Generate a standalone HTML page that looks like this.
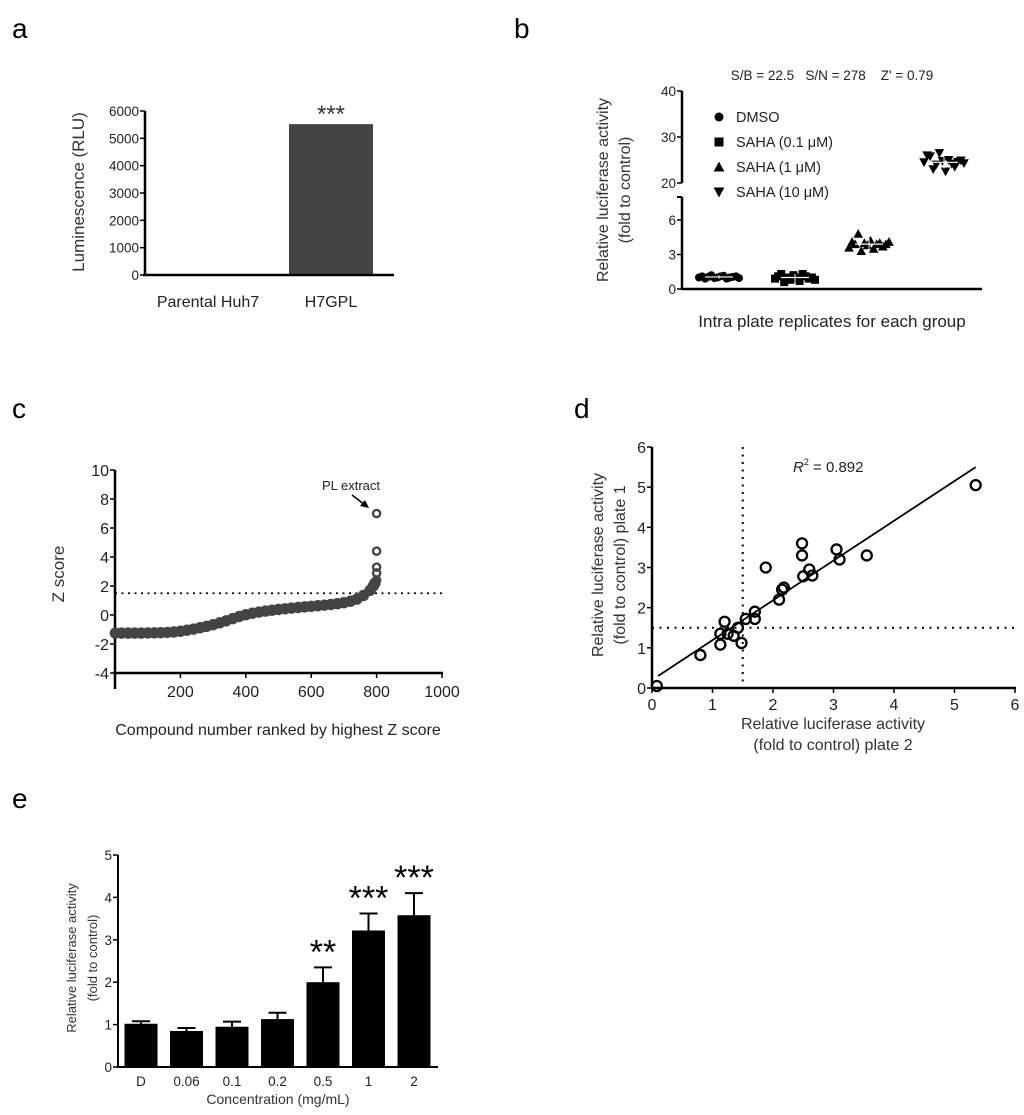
<!DOCTYPE html>
<html><head><meta charset="utf-8"><style>
html,body{margin:0;padding:0;background:#fff}
svg{display:block;font-family:"Liberation Sans",sans-serif}
</style></head><body>
<svg id="fig" width="1024" height="1115" viewBox="0 0 1024 1115">
<g id="pa"></g>
<g id="pb"></g>
<g id="pc"></g>
<g id="pd"></g>
<g id="pe"></g>
</svg>
<script>
// ---- data ----
const aCategories = ["Parental Huh7", "H7GPL"];
const aValues = [0, 5520];
const aTicks = [0,1000,2000,3000,4000,5000,6000];

const bGroups = ["DMSO","SAHA (0.1 μM)","SAHA (1 μM)","SAHA (10 μM)"];
const bMeans = [1.05, 1.0, 3.9, 24.5];
const bSD = [0.15, 0.3, 0.45, 1.3];
const bDmso = [1.0,1.1,0.9,1.05,1.2,0.95,1.0,1.1,1.15,0.9,1.0,1.05,1.1,0.95];
const bSaha01 = [0.9,1.1,1.3,0.6,1.0,0.8,1.2,1.0,0.7,1.3,1.1,0.9,1.0,0.8];
const bSaha1 = [3.6,4.1,3.9,4.8,3.3,4.0,3.8,4.2,3.5,3.9,4.0,3.7,3.9,4.1];
const bSaha10 = [24.5,26.0,25.8,23.0,24.0,26.5,24.8,22.5,25.0,24.2,23.5,24.6,24.9,24.3];
const bLowTicks = [0,3,6];
const bHighTicks = [20,30,40];

const cRanks = [1,20,40,60,80,100,120,140,160,180,200,220,240,260,280,300,320,340,360,380,400,420,440,460,480,500,520,540,560,580,600,620,640,660,680,700,720,740,760,780,790,795,800,800,800,800,800];
const cZ = [-1.25,-1.25,-1.25,-1.25,-1.25,-1.24,-1.23,-1.22,-1.2,-1.17,-1.12,-1.05,-0.97,-0.88,-0.78,-0.67,-0.54,-0.4,-0.25,-0.1,0.02,0.12,0.2,0.27,0.33,0.38,0.43,0.48,0.52,0.56,0.6,0.64,0.68,0.73,0.78,0.85,0.95,1.1,1.35,1.7,2.0,2.2,2.4,2.9,3.3,4.4,7.0];
const cYTicks = [-4,-2,0,2,4,6,8,10];
const cXTicks = [200,400,600,800,1000];
const cThreshold = 1.5;

const dX = [0.08,0.8,1.13,1.13,1.2,1.25,1.35,1.42,1.48,1.55,1.7,1.7,1.88,2.1,2.15,2.18,2.48,2.48,2.5,2.6,2.65,3.05,3.1,3.55,5.35];
const dY = [0.05,0.82,1.08,1.35,1.65,1.35,1.3,1.5,1.12,1.72,1.72,1.9,3.0,2.2,2.45,2.5,3.6,3.3,2.78,2.95,2.8,3.45,3.2,3.3,5.05];
const dFit = [0.1,0.3,5.35,5.5];
const dTicks = [0,1,2,3,4,5,6];

const eCategories = ["D","0.06","0.1","0.2","0.5","1","2"];
const eValues = [1.02,0.85,0.95,1.13,2.0,3.22,3.58];
const eErrors = [0.06,0.07,0.12,0.15,0.35,0.4,0.52];
const eStars = ["","","","","**","***","***"];
const eTicks = [0,1,2,3,4,5];

// ---- helpers ----
const NS="http://www.w3.org/2000/svg";
function mk(parent,tag,attrs,txt){const e=document.createElementNS(NS,tag);for(const k in attrs)e.setAttribute(k,attrs[k]);if(txt!==undefined)e.textContent=txt;parent.appendChild(e);return e;}
function lin(d0,d1,r0,r1){return v=>r0+(v-d0)*(r1-r0)/(d1-d0);}

// ---- panel a ----
(function(){
const g=document.getElementById('pa');
let t=mk(g,'text',{x:12,y:38,'font-size':28});
t.textContent='a';
const y=lin(0,6000,275,111);
const xs=[208,331];
aCategories.forEach((c,i)=>{
  if(aValues[i]>0){const r=mk(g,'rect',{x:xs[i]-42,y:y(aValues[i]),width:84,height:275-y(aValues[i]),fill:'#444'});
  }
  const l=mk(g,'text',{x:xs[i],y:307,'font-size':16,'text-anchor':'middle',fill:'#222'},c);
  
});
mk(g,'line',{x1:145,y1:111,x2:145,y2:276,stroke:'#000','stroke-width':2.5});
mk(g,'line',{x1:143,y1:275,x2:394,y2:275,stroke:'#000','stroke-width':2.5});
aTicks.forEach(v=>{mk(g,'line',{x1:140,y1:y(v),x2:145,y2:y(v),stroke:'#000','stroke-width':1.5});
  const tl=mk(g,'text',{x:139,y:y(v)+5,'font-size':13.5,'text-anchor':'end',fill:'#222'},v);
  });
const st=mk(g,'text',{x:331,y:122,'font-size':24,'text-anchor':'middle',fill:'#333'},'***');

const yt=mk(g,'text',{x:0,y:0,'font-size':17,'text-anchor':'middle',fill:'#333',transform:'translate(84,192) rotate(-90)'},'Luminescence (RLU)');

})();

// ---- panel b ----
(function(){
const g=document.getElementById('pb');
let t=mk(g,'text',{x:514,y:38,'font-size':28},'b');

const yl=lin(0,6,289,220), yh=lin(20,40,183,91);
const yv=v=>v>=20?yh(v):yl(v);
const xs=[719,795,869,944];
const ax=682;
mk(g,'line',{x1:ax,y1:91,x2:ax,y2:183,stroke:'#000','stroke-width':2.5});
mk(g,'line',{x1:ax,y1:197,x2:ax,y2:290,stroke:'#000','stroke-width':2.5});
mk(g,'line',{x1:ax-5,y1:197,x2:ax,y2:197,stroke:'#000','stroke-width':2});
mk(g,'line',{x1:ax,y1:289,x2:982,y2:289,stroke:'#000','stroke-width':2.5});
bLowTicks.concat(bHighTicks).forEach(v=>{const yy=yv(v);mk(g,'line',{x1:ax-5,y1:yy,x2:ax,y2:yy,stroke:'#000','stroke-width':1.5});
  const tl=mk(g,'text',{x:ax-6,y:yy+5,'font-size':13.5,'text-anchor':'end',fill:'#222'},v);
  });
const sets=[bDmso,bSaha01,bSaha1,bSaha10];
function marker(p,type,cx,cy,s){
  if(type===0)return mk(p,'circle',{cx:cx,cy:cy,r:s,fill:'#000'});
  if(type===1)return mk(p,'rect',{x:cx-s,y:cy-s,width:2*s,height:2*s,fill:'#000'});
  if(type===2)return mk(p,'polygon',{points:`${cx},${cy-s*1.2} ${cx-s*1.2},${cy+s} ${cx+s*1.2},${cy+s}`,fill:'#000'});
  return mk(p,'polygon',{points:`${cx},${cy+s*1.2} ${cx-s*1.2},${cy-s} ${cx+s*1.2},${cy-s}`,fill:'#000'});
}
sets.forEach((arr,gi)=>{
  arr.forEach((v,i)=>{const m=marker(g,gi,xs[gi]-20+i*40/(arr.length-1),yv(v),4);
    });
  const m=bMeans[gi],s=bSD[gi];
  mk(g,'line',{x1:xs[gi]-14,y1:yv(m),x2:xs[gi]+14,y2:yv(m),stroke:'#fff','stroke-width':1.2});
  mk(g,'line',{x1:xs[gi],y1:yv(m-s),x2:xs[gi],y2:yv(m+s),stroke:'#fff','stroke-width':1});
});
const stats=mk(g,'text',{x:832,y:80,'font-size':13.5,'text-anchor':'middle',fill:'#222'},'S/B = 22.5\u00a0\u00a0\u00a0S/N = 278\u00a0\u00a0\u00a0\u00a0Z\' = 0.79');

bGroups.forEach((n,i)=>{const yy=117+i*25;marker(g,i,719,yy,4.5);
  const l=mk(g,'text',{x:736,y:yy+5,'font-size':14.5,fill:'#222'},n);
  });
const xt=mk(g,'text',{x:832,y:327,'font-size':17,'text-anchor':'middle',fill:'#222'},'Intra plate replicates for each group');

const y1=mk(g,'text',{x:0,y:0,'font-size':16,'text-anchor':'middle',fill:'#333',transform:'translate(608,190) rotate(-90)'},'Relative luciferase activity');

mk(g,'text',{x:0,y:0,'font-size':16,'text-anchor':'middle',fill:'#333',transform:'translate(630,190) rotate(-90)'},'(fold to control)');
})();

// ---- panel c ----
(function(){
const g=document.getElementById('pc');
let t=mk(g,'text',{x:12,y:418,'font-size':28},'c');

const x=lin(0,1000,115,442), y=lin(-4,10,673,470);
mk(g,'line',{x1:115,y1:470,x2:115,y2:689,stroke:'#000','stroke-width':2.5});
mk(g,'line',{x1:113,y1:673,x2:443,y2:673,stroke:'#000','stroke-width':2.5});
cYTicks.forEach(v=>{mk(g,'line',{x1:110,y1:y(v),x2:115,y2:y(v),stroke:'#000','stroke-width':1.5});
  const tl=mk(g,'text',{x:109,y:y(v)+6,'font-size':16,'text-anchor':'end',fill:'#222'},v);
  });
cXTicks.forEach(v=>{mk(g,'line',{x1:x(v),y1:673,x2:x(v),y2:678,stroke:'#000','stroke-width':1.5});
  const tl=mk(g,'text',{x:x(v),y:697,'font-size':16,'text-anchor':'middle',fill:'#222'},v);
  });
const th=mk(g,'line',{x1:115,y1:y(cThreshold),x2:442,y2:y(cThreshold),stroke:'#000','stroke-width':1.8,'stroke-dasharray':'2,4.5'});

cRanks.forEach((r,i)=>{const band=i<cRanks.length-5;
  const c=mk(g,'circle',{cx:x(r),cy:y(cZ[i]),r:band?4.6:3.6,fill:band?'#444':'none',stroke:'#444','stroke-width':band?2.2:2.4});
  });
const pl=mk(g,'text',{x:351,y:490,'font-size':13,'text-anchor':'middle',fill:'#222'},'PL extract');

mk(g,'line',{x1:352,y1:495,x2:365,y2:505,stroke:'#000','stroke-width':1.5});
mk(g,'polygon',{points:'369,508 360,506 365,500',fill:'#000'});
const xt=mk(g,'text',{x:278,y:735,'font-size':16,'text-anchor':'middle',fill:'#222'},'Compound number ranked by highest Z score');

const yt=mk(g,'text',{x:0,y:0,'font-size':17,'text-anchor':'middle',fill:'#333',transform:'translate(64,574) rotate(-90)'},'Z score');

})();

// ---- panel d ----
(function(){
const g=document.getElementById('pd');
let t=mk(g,'text',{x:574,y:418,'font-size':28},'d');

const x=lin(0,6,652,1015), y=lin(0,6,688,447);
mk(g,'line',{x1:652,y1:447,x2:652,y2:689,stroke:'#000','stroke-width':2.5});
mk(g,'line',{x1:651,y1:688,x2:1016,y2:688,stroke:'#000','stroke-width':2.5});
dTicks.forEach(v=>{mk(g,'line',{x1:647,y1:y(v),x2:652,y2:y(v),stroke:'#000','stroke-width':1.5});
  let tl=mk(g,'text',{x:646,y:y(v)+6,'font-size':16,'text-anchor':'end',fill:'#222'},v);
  
  mk(g,'line',{x1:x(v),y1:688,x2:x(v),y2:693,stroke:'#000','stroke-width':1.5});
  tl=mk(g,'text',{x:x(v),y:710,'font-size':16,'text-anchor':'middle',fill:'#222'},v);
  });
mk(g,'line',{x1:x(1.5),y1:447,x2:x(1.5),y2:688,stroke:'#000','stroke-width':2,'stroke-dasharray':'2,5.5'});
mk(g,'line',{x1:652,y1:y(1.5),x2:1015,y2:y(1.5),stroke:'#000','stroke-width':2,'stroke-dasharray':'2,5.5'});
const fl=mk(g,'line',{x1:x(dFit[0]),y1:y(dFit[1]),x2:x(dFit[2]),y2:y(dFit[3]),stroke:'#000','stroke-width':1.8});

dX.forEach((v,i)=>{const c=mk(g,'circle',{cx:x(v),cy:y(dY[i]),r:5,fill:'none',stroke:'#000','stroke-width':2.3});
  });
const r=mk(g,'text',{x:793,y:472,'font-size':15,fill:'#222'});

r.innerHTML='<tspan font-style="italic">R</tspan><tspan font-size="9" dy="-7">2</tspan><tspan dy="7"> = 0.892</tspan>';
const x1=mk(g,'text',{x:833,y:729,'font-size':16,'text-anchor':'middle',fill:'#333'},'Relative luciferase activity');

mk(g,'text',{x:833,y:750,'font-size':16,'text-anchor':'middle',fill:'#333'},'(fold to control) plate 2');
const y1=mk(g,'text',{x:0,y:0,'font-size':16,'text-anchor':'middle',fill:'#333',transform:'translate(603,565) rotate(-90)'},'Relative luciferase activity');

mk(g,'text',{x:0,y:0,'font-size':16,'text-anchor':'middle',fill:'#333',transform:'translate(625,565) rotate(-90)'},'(fold to control) plate 1');
})();

// ---- panel e ----
(function(){
const g=document.getElementById('pe');
let t=mk(g,'text',{x:12,y:808,'font-size':28},'e');

const y=lin(0,5,1067,855);
const x0=141, step=45.5;
eCategories.forEach((c,i)=>{const cx=x0+i*step, top=y(eValues[i]), et=y(eValues[i]+eErrors[i]);
  mk(g,'line',{x1:cx,y1:top,x2:cx,y2:et,stroke:'#000','stroke-width':2});
  mk(g,'line',{x1:cx-9,y1:et,x2:cx+9,y2:et,stroke:'#000','stroke-width':2});
  const b=mk(g,'rect',{x:cx-16.5,y:top,width:33,height:1067-top,fill:'#000'});
  
  const tl=mk(g,'text',{x:cx,y:1086,'font-size':13.5,'text-anchor':'middle',fill:'#222'},c);
  
  if(eStars[i]){const s=mk(g,'text',{x:cx,y:et-4,'font-size':34,'text-anchor':'middle',fill:'#000'},eStars[i]);
    }
});
mk(g,'line',{x1:118,y1:855,x2:118,y2:1068,stroke:'#000','stroke-width':2});
mk(g,'line',{x1:117,y1:1067,x2:438,y2:1067,stroke:'#000','stroke-width':2});
eTicks.forEach(v=>{mk(g,'line',{x1:113,y1:y(v),x2:118,y2:y(v),stroke:'#000','stroke-width':1.5});
  const tl=mk(g,'text',{x:112,y:y(v)+5,'font-size':13.5,'text-anchor':'end',fill:'#222'},v);
  });
const xt=mk(g,'text',{x:278,y:1104,'font-size':14,'text-anchor':'middle',fill:'#333'},'Concentration (mg/mL)');

const y1=mk(g,'text',{x:0,y:0,'font-size':13,'text-anchor':'middle',fill:'#333',transform:'translate(76,958) rotate(-90)'},'Relative luciferase activity');

mk(g,'text',{x:0,y:0,'font-size':13,'text-anchor':'middle',fill:'#333',transform:'translate(97,958) rotate(-90)'},'(fold to control)');
})();
</script>
</body></html>
